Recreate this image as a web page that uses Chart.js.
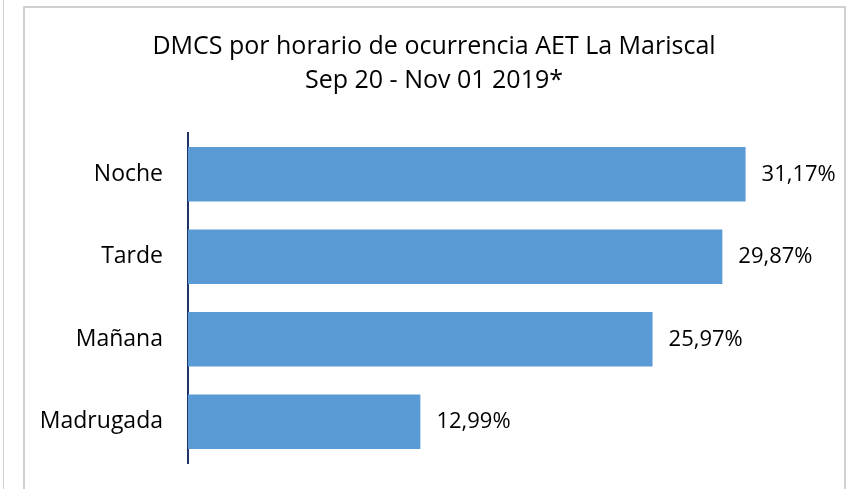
<!DOCTYPE html>
<html>
<head>
<meta charset="utf-8">
<script src="https://cdn.jsdelivr.net/npm/chart.js@4.4.0/dist/chart.umd.min.js"></script>
<style>
  html, body { margin: 0; padding: 0; background: #fff; }
  #wrap { position: relative; width: 848px; height: 489px; overflow: hidden; }
  .edge { position: absolute; background: #d0d0d0; }
  canvas { position: absolute; left: 0; top: 0; }
</style>
</head>
<body>
<div id="wrap">
  <div class="edge" style="left:3px; top:0; width:1px; height:489px;"></div>
  <div class="edge" style="left:23px; top:6px; width:2px; height:483px;"></div>
  <div class="edge" style="left:23px; top:6px; width:823px; height:2px;"></div>
  <div class="edge" style="left:844px; top:6px; width:2px; height:483px;"></div>
  <canvas id="horarioChart" width="848" height="489"></canvas>
</div>
<script>
const categories = ['Noche', 'Tarde', 'Mañana', 'Madrugada'];
const percentValues = [31.17, 29.87, 25.97, 12.99];
const titleLines = ['DMCS por horario de ocurrencia AET La Mariscal', 'Sep 20 - Nov 01 2019*'];

const fontFamily = "'Open Sans', 'Noto Sans', sans-serif";

// etiquetas de valor al final de cada barra
const valueLabels = {
    id: 'valueLabels',
    afterDatasetsDraw(chart) {
        const ctx = chart.ctx;
        const meta = chart.getDatasetMeta(0);
        ctx.save();
        ctx.font = '22px ' + fontFamily;
        ctx.fillStyle = '#000000';
        ctx.textAlign = 'left';
        ctx.textBaseline = 'middle';
        meta.data.forEach(function (bar, i) {
            const txt = percentValues[i].toFixed(2).replace('.', ',') + '%';
            ctx.fillText(txt, bar.x + 16, bar.y);
        });
        ctx.restore();
    }
};

function draw() {
    const ctx = document.getElementById('horarioChart').getContext('2d');
    new Chart(ctx, {
        type: 'bar',
        data: {
            labels: categories,
            datasets: [{
                data: percentValues,
                backgroundColor: '#5B9BD5',
                borderWidth: 0,
                categoryPercentage: 1,
                barPercentage: 0.66
            }]
        },
        options: {
            indexAxis: 'y',
            responsive: false,
            animation: false,
            layout: {
                padding: { left: 36, right: 16, top: 0, bottom: 26 }
            },
            scales: {
                x: {
                    display: false,
                    min: 0,
                    max: 36
                },
                y: {
                    grid: { display: false },
                    border: { display: true, color: '#1F3468', width: 2 },
                    ticks: {
                        color: '#000000',
                        padding: 17,
                        font: { family: fontFamily, size: 23 }
                    },
                    afterFit: function (scale) {
                        scale.width = 152;
                        scale.paddingTop = 0;
                        scale.paddingBottom = 0;
                    }
                }
            },
            plugins: {
                legend: { display: false },
                tooltip: { enabled: false },
                title: {
                    display: true,
                    text: titleLines,
                    color: '#000000',
                    font: { family: fontFamily, size: 25, weight: 'normal', lineHeight: 1.36 },
                    padding: { top: 30, bottom: 35 }
                }
            }
        },
        plugins: [valueLabels]
    });
}

document.fonts.load("22px 'Open Sans'").then(draw, draw);
</script>
</body>
</html>
